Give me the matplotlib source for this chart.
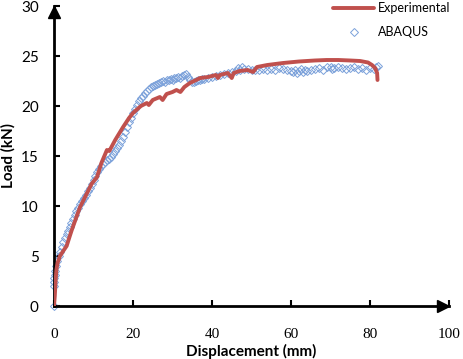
import matplotlib
matplotlib.use("agg")
import matplotlib.pyplot as plt

# Experimental curve (displacement mm, load kN)
exp_disp = [0, 0.2, 0.4, 0.6, 0.9, 1.5, 2.5, 3.2, 4.0, 4.5, 5.5, 6.6, 8.0, 9.5,
            10.9, 12.0, 13.4, 14.0, 15.5, 17.5, 19.0, 20.0, 22.0, 23.5, 24.0,
            25.0, 26.8, 27.5, 28.5, 30.0, 31.0, 32.0, 33.0, 34.4, 36.0, 37.0,
            39.0, 41.0, 41.5, 42.0, 44.0, 45.0, 45.5, 47.0, 49.0, 50.4, 51.4,
            54.0, 58.0, 62.0, 66.0, 69.0, 72.0, 75.0, 77.5, 79.5, 80.5, 81.3,
            81.8, 81.9]
exp_load = [0, 1.0, 2.5, 3.6, 4.3, 5.0, 5.6, 6.0, 7.0, 7.6, 8.7, 9.9, 11.0, 12.2,
            12.9, 14.3, 15.6, 15.5, 16.6, 17.9, 18.8, 19.3, 20.0, 20.3, 20.1,
            20.6, 20.9, 20.6, 21.2, 21.4, 21.6, 21.4, 21.9, 22.3, 22.6, 22.8,
            22.9, 23.1, 22.8, 23.1, 23.3, 22.8, 23.3, 23.5, 23.6, 23.4, 23.9,
            24.1, 24.3, 24.45, 24.55, 24.6, 24.6, 24.55, 24.5, 24.35, 24.1, 23.8,
            23.3, 22.6]

# ABAQUS results
fe_disp = [0.0, 0.0, 0.1, 0.1, 0.2, 0.3, 0.5, 0.8, 1.2, 1.6, 2.0, 2.4, 2.8, 3.2,
           3.6, 4.0, 4.4, 4.8, 5.2, 5.6, 6.0, 6.5, 7.0, 7.5, 8.0, 8.5, 9.0, 9.5,
           10.0, 10.5, 11.0, 11.5, 12.0, 12.5, 13.0, 13.5, 14.0, 14.5, 15.0,
           15.5, 16.0, 16.5, 17.0, 17.5, 18.0, 18.5, 19.0, 19.5, 20.0, 20.5,
           21.0, 21.5, 22.0, 22.5, 23.0, 23.5, 24.0, 24.5, 25.0, 25.5, 26.0,
           26.5, 27.0, 27.5, 28.0, 28.5, 29.0, 29.5, 30.0, 30.5, 31.0, 31.5,
           32.0, 32.5, 33.0, 33.5, 34.0, 34.5, 35.0, 35.5, 36.0, 36.5, 37.0,
           37.5, 38.0, 39.0, 40.0, 41.0, 42.0, 43.0, 44.0, 45.0, 46.0, 46.5,
           47.0, 47.5, 48.0, 49.0, 50.0, 51.0, 52.0, 53.0, 54.0, 55.0, 56.0,
           57.0, 58.0, 59.0, 60.0, 60.5, 61.0, 61.5, 62.0, 62.5, 63.0, 63.5,
           64.0, 65.0, 66.0, 67.0, 68.0, 69.0, 70.0, 70.5, 71.0, 72.0, 73.0,
           74.0, 75.0, 76.0, 77.0, 78.0, 79.0, 80.0, 81.0, 81.5, 82.0]
fe_load = [0.0, 2.0, 2.4, 2.8, 3.1, 3.5, 4.0, 4.5, 5.0, 5.4, 5.9, 6.4, 6.8, 7.2,
           7.5, 7.9, 8.3, 8.7, 9.1, 9.5, 9.8, 10.2, 10.5, 10.8, 11.1, 11.5, 11.8,
           12.2, 12.6, 13.0, 13.4, 13.7, 14.0, 14.2, 14.4, 14.6, 14.7, 14.9,
           15.2, 15.5, 15.8, 16.1, 16.5, 16.9, 17.4, 17.9, 18.4, 18.8, 19.3,
           19.7, 20.1, 20.5, 20.8, 21.0, 21.3, 21.5, 21.7, 21.9, 22.0, 22.1,
           22.2, 22.3, 22.4, 22.5, 22.4, 22.6, 22.6, 22.7, 22.6, 22.8, 22.8,
           22.9, 22.8, 23.0, 23.1, 23.2, 22.9, 22.6, 22.4, 22.4, 22.5, 22.6,
           22.6, 22.7, 22.7, 22.8, 22.9, 23.0, 23.1, 23.2, 23.3, 23.4, 23.5,
           23.8, 23.6, 23.9, 23.7, 23.7, 23.6, 23.6, 23.6, 23.7, 23.6, 23.7,
           23.6, 23.8, 23.7, 23.6, 23.5, 23.4, 23.6, 23.3, 23.5, 23.7, 23.4,
           23.6, 23.5, 23.6, 23.7, 23.8, 23.6, 23.9, 23.9, 23.7, 23.8, 23.9,
           23.8, 23.7, 23.8, 23.9, 23.7, 23.8, 23.6, 23.8, 23.7, 23.9, 24.0]

x_ticks = [0, 20, 40, 60, 80, 100]
y_ticks = [0, 5, 10, 15, 20, 25, 30]

red = '#c0504d'
blue = '#7ba1da'

fig = plt.figure(figsize=(4.63, 3.59), dpi=100)
ax = fig.add_axes([54 / 463, 1 - 306 / 359, 395 / 463, 300 / 359])

ax.plot(fe_disp, fe_load, linestyle='none', marker='D', markersize=4.2,
        markerfacecolor='none', markeredgecolor=blue, markeredgewidth=0.7,
        label='ABAQUS', clip_on=False, zorder=2)
ax.plot(exp_disp, exp_load, color=red, linewidth=2.8, label='Experimental',
        solid_capstyle='round', zorder=3)

ax.set_xlim(0, 100)
ax.set_ylim(0, 30)
ax.set_xticks(x_ticks)
ax.set_yticks(y_ticks)
ax.set_xticklabels([str(t) for t in x_ticks], family='Liberation Serif', fontsize=11)
ax.set_yticklabels([str(t) for t in y_ticks], family='Lato', fontsize=11)
ax.tick_params(axis='x', direction='in', length=4, width=1.5, pad=16)
ax.tick_params(axis='y', direction='in', length=4, width=1.5, pad=11)

for s in ['top', 'right']:
    ax.spines[s].set_visible(False)
for s in ['left', 'bottom']:
    ax.spines[s].set_linewidth(2)

# arrow heads at the axis ends
ax.plot([1 - 6 / 395], [0], marker='>', markersize=8, color='black',
        transform=ax.transAxes, clip_on=False)
ax.plot([0], [1 - 6 / 300], marker='^', markersize=8, color='black',
        transform=ax.transAxes, clip_on=False)

ax.set_xlabel('Displacement (mm)', family='Lato', fontweight='bold', fontsize=11,
              labelpad=2)
ax.set_ylabel('Load (kN)', family='Lato', fontweight='bold', fontsize=11,
              labelpad=4)

handles, labels = ax.get_legend_handles_labels()
fig.legend(handles[::-1], labels[::-1], loc='upper left',
           bbox_to_anchor=(333 / 463, 1 - 2 / 359), frameon=False,
           prop={'family': 'Lato', 'size': 9}, handlelength=3.3,
           handletextpad=0.3, labelspacing=1.0, borderpad=0, borderaxespad=0)

plt.savefig('out.png', dpi=100)
